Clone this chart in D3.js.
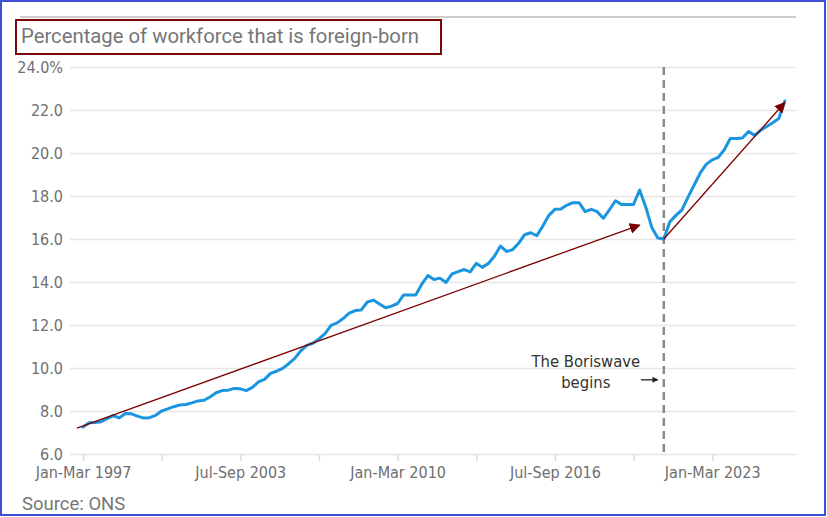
<!DOCTYPE html>
<html>
<head>
<meta charset="utf-8">
<script src="https://cdn.jsdelivr.net/npm/d3@7"></script>
<style>
  body { margin: 0; background: #fff; }
  .tick-lbl { font-family: "Liberation Sans Narrow", "DejaVu Sans Condensed", "Roboto Condensed", sans-serif; fill: #6f6f6f; }
</style>
</head>
<body>
<svg id="chart" width="827" height="517"></svg>
<script>
// ===== Data =====
// quarterly share of workforce that is foreign-born (%), starting Jan-Mar 1997
const startYear = 1997;
const shares = [
  7.25, 7.45, 7.47, 7.5, 7.65, 7.78, 7.68, 7.88, 7.87, 7.76,
  7.67, 7.69, 7.8, 8.0, 8.1, 8.2, 8.28, 8.3, 8.38, 8.47,
  8.5, 8.65, 8.85, 8.95, 8.97, 9.05, 9.03, 8.95, 9.1, 9.35,
  9.47, 9.75, 9.85, 9.98, 10.2, 10.45, 10.8, 11.05, 11.15, 11.35,
  11.6, 11.98, 12.1, 12.3, 12.55, 12.67, 12.7, 13.07, 13.16, 12.98,
  12.8, 12.88, 13.0, 13.4, 13.4, 13.4, 13.9, 14.3, 14.12, 14.18,
  13.98, 14.38, 14.48, 14.58, 14.47, 14.87, 14.68, 14.86, 15.2, 15.67,
  15.42, 15.5, 15.8, 16.2, 16.29, 16.15, 16.6, 17.1, 17.38, 17.4,
  17.58, 17.69, 17.69, 17.27, 17.38, 17.27, 16.96, 17.35, 17.78, 17.61,
  17.61, 17.61, 18.28, 17.5, 16.55, 16.05, 16.0, 16.8, 17.1, 17.35,
  17.95, 18.5, 19.06, 19.47, 19.68, 19.8, 20.15, 20.68, 20.68, 20.7,
  21.0, 20.82, 21.05, 21.23, 21.41, 21.6, 22.42
];
const quarterNames = ["Jan-Mar", "Apr-Jun", "Jul-Sep", "Oct-Dec"];
const periods = shares.map((v, i) => quarterNames[i % 4] + " " + (startYear + Math.floor(i / 4)));

const xTickPeriods = ["Jan-Mar 1997", "Apr-Jun 2000", "Jul-Sep 2003", "Oct-Dec 2006", "Jan-Mar 2010",
  "Apr-Jun 2013", "Jul-Sep 2016", "Oct-Dec 2019", "Jan-Mar 2023"];
const xLabelled = ["Jan-Mar 1997", "Jul-Sep 2003", "Jan-Mar 2010", "Jul-Sep 2016", "Jan-Mar 2023"];
const yTicks = [6, 8, 10, 12, 14, 16, 18, 20, 22, 24];

// marker for the Boriswave and the two trend arrows (period, value)
const boriswavePeriod = "Jan-Mar 2021";
const arrows = [
  { from: ["Oct-Dec 1996", 7.2], to: ["Jan-Mar 2020", 16.65] },
  { from: ["Jan-Mar 2021", 16.0], to: ["Jan-Mar 2026", 22.35] }
];

// ===== Layout =====
const svg = d3.select("#chart");
const margin = { top: 67, right: 31, bottom: 63, left: 70 };
const W = +svg.attr("width"), H = +svg.attr("height");

// period label -> quarter index (works outside the data range too)
function idx(p) {
  const [q, yr] = p.split(" ");
  return (+yr - startYear) * 4 + quarterNames.indexOf(q);
}

const x = d3.scaleLinear().domain([-2.15, 117.85]).range([margin.left, W - margin.right]);
const y = d3.scaleLinear().domain([6, 24]).range([H - margin.bottom, margin.top]);

// outer frame
svg.append("rect")
  .attr("x", 1).attr("y", 1).attr("width", W - 3).attr("height", H - 3)
  .attr("fill", "none").attr("stroke", "#3f4fd6").attr("stroke-width", 2);

// top rule
svg.append("line")
  .attr("x1", 20).attr("x2", W - margin.right).attr("y1", 17).attr("y2", 17)
  .attr("stroke", "#bdbdbd").attr("stroke-width", 1.5);

// title with box
svg.append("text")
  .attr("x", 21).attr("y", 43)
  .style("font-family", "Roboto, 'Open Sans', sans-serif")
  .style("font-size", "20.3px")
  .attr("fill", "#767676")
  .text("Percentage of workforce that is foreign-born");
svg.append("rect")
  .attr("x", 16).attr("y", 20).attr("width", 425).attr("height", 34)
  .attr("fill", "none").attr("stroke", "#7a0a0a").attr("stroke-width", 2);

// y grid + labels
const yAxis = d3.axisLeft(y)
  .tickValues(yTicks)
  .tickSize(-(W - margin.left - margin.right))
  .tickPadding(7)
  .tickFormat(d => d === 24 ? d3.format(".1f")(d) + "%" : d3.format(".1f")(d));
const yG = svg.append("g").attr("transform", `translate(${margin.left},0)`).call(yAxis);
yG.select(".domain").remove();
yG.selectAll(".tick line").attr("stroke", "#e6e6e6").attr("stroke-width", 1.5);
yG.selectAll(".tick text").attr("class", "tick-lbl").style("font-size", "16px");

// x ticks
const xAxis = d3.axisBottom(x)
  .tickValues(xTickPeriods.map(idx))
  .tickSize(6)
  .tickPadding(6)
  .tickFormat(d => {
    const name = quarterNames[d % 4] + " " + (startYear + Math.floor(d / 4));
    return xLabelled.includes(name) ? name : "";
  });
const xG = svg.append("g").attr("transform", `translate(0,${H - margin.bottom + 1})`).call(xAxis);
xG.select(".domain").remove();
xG.selectAll(".tick line").attr("stroke", "#dcdcdc").attr("stroke-width", 1.5);
xG.selectAll(".tick text").attr("class", "tick-lbl").style("font-size", "16px");

// Boriswave marker
const bx = x(idx(boriswavePeriod));
svg.append("line")
  .attr("x1", bx).attr("x2", bx).attr("y1", y(24)).attr("y2", y(6))
  .attr("stroke", "#8a8a8a").attr("stroke-width", 2.5).attr("stroke-dasharray", "8,5");

// the series
const line = d3.line()
  .x((d, i) => x(i))
  .y(d => y(d));
svg.append("path")
  .datum(shares)
  .attr("fill", "none")
  .attr("stroke", "#1b95e0")
  .attr("stroke-width", 3)
  .attr("stroke-linejoin", "round")
  .attr("stroke-linecap", "round")
  .attr("d", line);

// arrowheads
const defs = svg.append("defs");
defs.append("marker")
  .attr("id", "redhead")
  .attr("viewBox", "0 0 10 10")
  .attr("refX", 9).attr("refY", 5)
  .attr("markerWidth", 11).attr("markerHeight", 11)
  .attr("markerUnits", "userSpaceOnUse")
  .attr("orient", "auto")
  .append("path").attr("d", "M0,0 L10,5 L0,10 z").attr("fill", "#7a0000");
defs.append("marker")
  .attr("id", "blackhead")
  .attr("viewBox", "0 0 10 10")
  .attr("refX", 9).attr("refY", 5)
  .attr("markerWidth", 6).attr("markerHeight", 6)
  .attr("markerUnits", "userSpaceOnUse")
  .attr("orient", "auto")
  .append("path").attr("d", "M0,0 L10,5 L0,10 z").attr("fill", "#222");

arrows.forEach(a => {
  svg.append("line")
    .attr("x1", x(idx(a.from[0]))).attr("y1", y(a.from[1]))
    .attr("x2", x(idx(a.to[0]))).attr("y2", y(a.to[1]))
    .attr("stroke", "#7a0000").attr("stroke-width", 1.3)
    .attr("marker-end", "url(#redhead)");
});

// annotation text
const ann = svg.append("text")
  .attr("class", "tick-lbl")
  .attr("text-anchor", "middle")
  .style("font-size", "16.5px");
ann.append("tspan").attr("x", bx - 78).attr("y", y(10.05)).attr("fill", "#333").text("The Boriswave");
ann.append("tspan").attr("x", bx - 78).attr("y", y(9.07)).attr("fill", "#333").text("begins");
svg.append("line")
  .attr("x1", bx - 23).attr("x2", bx - 6).attr("y1", y(9.45)).attr("y2", y(9.45))
  .attr("stroke", "#222").attr("stroke-width", 1.3)
  .attr("marker-end", "url(#blackhead)");

// source
svg.append("text")
  .attr("x", 22).attr("y", 510)
  .style("font-family", "Roboto, 'Open Sans', sans-serif")
  .style("font-size", "18.5px")
  .attr("fill", "#767676")
  .text("Source: ONS");
</script>
</body>
</html>
